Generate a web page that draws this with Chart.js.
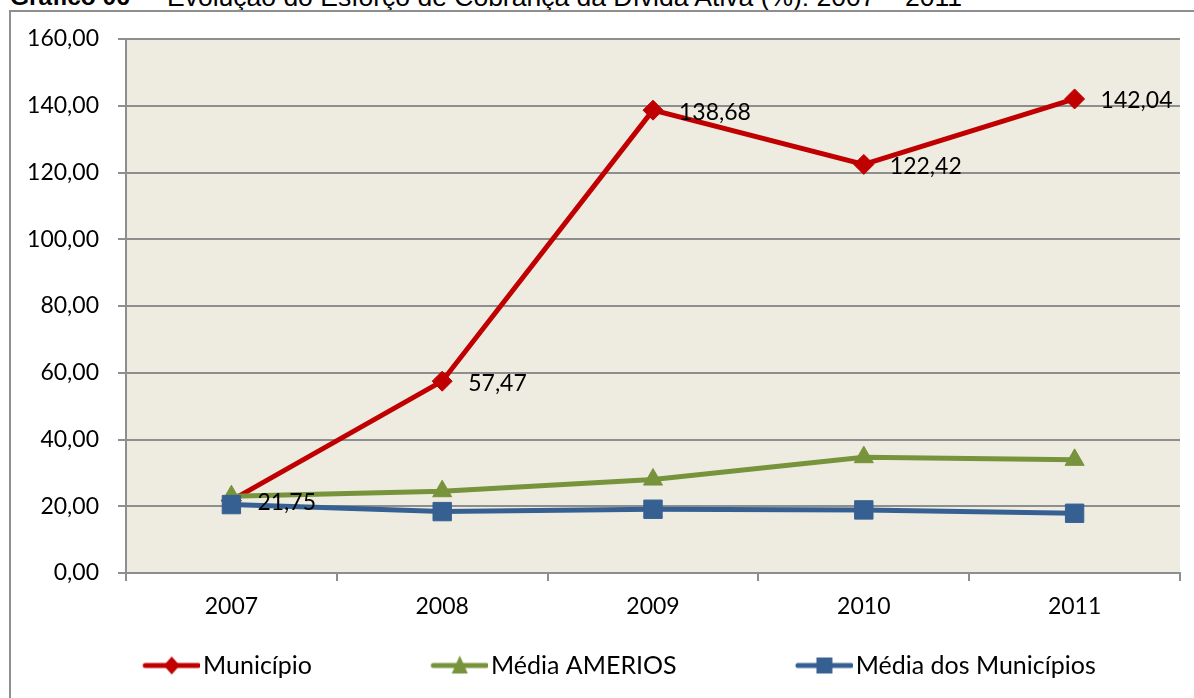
<!DOCTYPE html>
<html>
<head>
<meta charset="utf-8">
<script src="https://cdn.jsdelivr.net/npm/chart.js@4"></script>
<style>
    body { margin: 0; background: #fff; overflow: hidden; }
    #wrap { position: relative; width: 1194px; height: 698px; overflow: hidden; }
    #frame { position: absolute; left: 9px; top: 10px; width: 1200px; height: 700px; border-left: 2px solid #8f8f8f; border-top: 2px solid #8f8f8f; }
    .title { position: absolute; top: -18px; font: 26.5px/30px "Liberation Sans", Arial, sans-serif; white-space: pre; color: #000; }
    canvas { position: absolute; left: 0; top: 0; }
</style>
</head>
<body>
<div id="wrap">
    <span class="title" style="left:10px;font-size:24.5px"><b>Gráfico 06</b></span>
    <span class="title" style="left:127px">–</span>
    <span class="title" style="left:167px">Evolução do Esforço de Cobrança da Dívida Ativa (%): 2007 – 2011</span>
    <div id="frame"></div>
    <canvas id="grafico" width="1194" height="698"></canvas>
</div>
<script>
    const years = ['2007', '2008', '2009', '2010', '2011'];
    const municipio = [21.75, 57.47, 138.68, 122.42, 142.04];
    const mediaAmerios = [23.0, 24.5, 28.0, 34.7, 33.9];
    const mediaMunicipios = [20.5, 18.4, 19.1, 18.9, 17.9];
    const yTicks = [0, 20, 40, 60, 80, 100, 120, 140, 160];

    const fontName = 'Lato, "Open Sans", sans-serif';
    const gridColor = '#8e8e8e';

    function formatNum(v) {
        return v.toFixed(2).replace('.', ',');
    }

    // legend symbol: line with the marker in the middle, drawn on a small canvas
    function legendSymbol(color, style) {
        const c = document.createElement('canvas');
        c.width = 176;
        c.height = 24;
        const g = c.getContext('2d');
        const x0 = c.width - 57, x1 = c.width, cx = (x0 + x1) / 2, cy = 12;
        g.strokeStyle = color;
        g.lineWidth = 5;
        g.lineCap = 'round';
        g.beginPath();
        g.moveTo(x0 + 2, cy);
        g.lineTo(x1 - 2, cy);
        g.stroke();
        g.fillStyle = color;
        g.beginPath();
        if (style === 'rectRot') {
            g.moveTo(cx, cy - 9); g.lineTo(cx + 8, cy); g.lineTo(cx, cy + 9); g.lineTo(cx - 8, cy);
        } else if (style === 'triangle') {
            g.moveTo(cx, cy - 10); g.lineTo(cx + 8, cy + 8); g.lineTo(cx - 8, cy + 8);
        } else {
            g.rect(cx - 8, cy - 8, 16, 16);
        }
        g.closePath();
        g.fill();
        return c;
    }

    const plotBackground = {
        id: 'plotBackground',
        beforeDraw(chart) {
            const a = chart.chartArea;
            const ctx = chart.ctx;
            ctx.save();
            ctx.fillStyle = '#EEECE1';
            ctx.fillRect(a.left, a.top, a.right - a.left, a.bottom - a.top);
            ctx.restore();
        }
    };

    const valueLabels = {
        id: 'valueLabels',
        afterDatasetsDraw(chart) {
            const ctx = chart.ctx;
            const meta = chart.getDatasetMeta(0);
            ctx.save();
            ctx.font = '23px ' + fontName;
            ctx.fillStyle = '#000';
            ctx.textAlign = 'left';
            ctx.textBaseline = 'middle';
            meta.data.forEach((pt, i) => {
                ctx.fillText(formatNum(municipio[i]), pt.x + 26, pt.y + 2);
            });
            ctx.restore();
        }
    };

    const datasets = [
        { label: 'Município', data: municipio, borderColor: '#C00000', backgroundColor: '#C00000', pointStyle: 'rectRot', pointRadius: 10, order: 3 },
        { label: 'Média AMERIOS', data: mediaAmerios, borderColor: '#77933C', backgroundColor: '#77933C', pointStyle: 'triangle', pointRadius: 11, order: 2 },
        { label: 'Média dos Municípios', data: mediaMunicipios, borderColor: '#376092', backgroundColor: '#376092', pointStyle: 'rect', pointRadius: 13, order: 1 }
    ];
    datasets.forEach(d => {
        d.borderWidth = 5;
        d.pointBorderWidth = 1;
        d.tension = 0;
    });

    new Chart(document.getElementById('grafico').getContext('2d'), {
        type: 'line',
        data: { labels: years, datasets: datasets },
        options: {
            responsive: false,
            animation: false,
            layout: { padding: { top: 39, right: 13, left: 24, bottom: 10 } },
            scales: {
                x: {
                    offset: true,
                    grid: { offset: true, drawOnChartArea: false, color: gridColor, lineWidth: 2, tickLength: 8 },
                    border: { display: true, color: gridColor, width: 2 },
                    ticks: { color: '#000', font: { family: fontName, size: 23 }, padding: 12 },
                    afterFit(scale) { scale.height = 70; }
                },
                y: {
                    min: 0,
                    max: 160,
                    afterBuildTicks(scale) { scale.ticks = yTicks.map(v => ({ value: v })); },
                    grid: { color: gridColor, lineWidth: 2, tickLength: 8 },
                    border: { display: true, color: gridColor, width: 2 },
                    ticks: { color: '#000', font: { family: fontName, size: 23 }, padding: 19, callback: v => formatNum(v) },
                    afterFit(scale) { scale.width = 102; }
                }
            },
            plugins: {
                legend: {
                    position: 'bottom',
                    align: 'start',
                    onClick: null,
                    labels: {
                        usePointStyle: true,
                        pointStyleWidth: 156.5,
                        padding: 10,
                        color: '#000',
                        font: { family: fontName, size: 25 },
                        generateLabels(chart) {
                            return chart.data.datasets.map((d, i) => ({
                                text: d.label,
                                datasetIndex: i,
                                pointStyle: legendSymbol(d.borderColor, d.pointStyle),
                                fillStyle: d.borderColor,
                                strokeStyle: d.borderColor,
                                lineWidth: 0,
                                hidden: false,
                                fontColor: '#000'
                            }));
                        }
                    }
                },
                tooltip: { enabled: false }
            }
        },
        plugins: [plotBackground, valueLabels]
    });
</script>
</body>
</html>
